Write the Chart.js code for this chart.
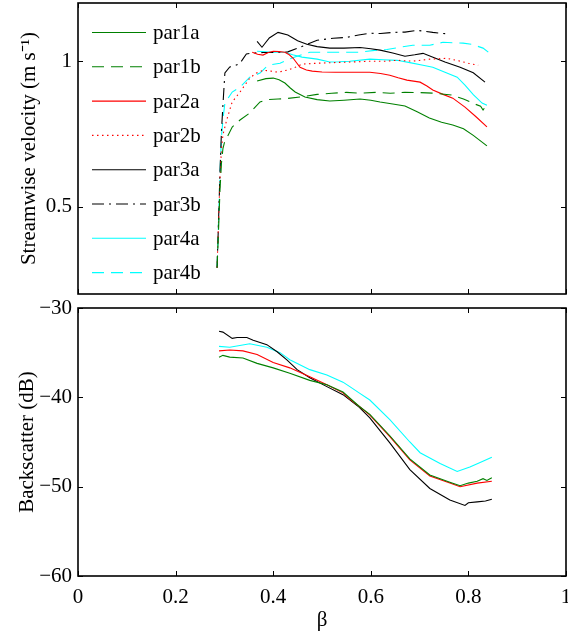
<!DOCTYPE html>
<html>
<head>
<meta charset="utf-8">
<script src="https://cdn.jsdelivr.net/npm/chart.js@4.4.0/dist/chart.umd.min.js"></script>
<style>
  html, body { margin: 0; padding: 0; background: #fff; overflow: hidden; }
  #wrap { position: relative; width: 568px; height: 637px; overflow: hidden; }
  #velChart { position: absolute; left: 0; top: 0; }
  #bsChart { position: absolute; left: 0; top: 300px; }
</style>
</head>
<body>
<div id="wrap">
  <canvas id="velChart" width="568" height="300"></canvas>
  <canvas id="bsChart" width="568" height="337"></canvas>
</div>
<script>
// ---- top panel: streamwise velocity (m/s) vs beta ----
const par1aBeta = [0.367, 0.385, 0.40, 0.412, 0.424, 0.435, 0.445, 0.465, 0.49, 0.516, 0.545, 0.578, 0.60, 0.619, 0.645, 0.67, 0.695, 0.72, 0.745, 0.768, 0.79, 0.81, 0.838];
const par1aVel = [0.932, 0.940, 0.942, 0.936, 0.925, 0.908, 0.894, 0.877, 0.868, 0.863, 0.866, 0.870, 0.866, 0.860, 0.853, 0.846, 0.826, 0.805, 0.790, 0.781, 0.768, 0.745, 0.709];

const par1bBeta = [0.285, 0.288, 0.291, 0.294, 0.297, 0.30, 0.316, 0.332, 0.352, 0.373, 0.39, 0.41, 0.43, 0.455, 0.49, 0.52, 0.55, 0.58, 0.61, 0.64, 0.67, 0.70, 0.73, 0.765, 0.79, 0.81, 0.825, 0.830, 0.835];
const par1bVel = [0.29, 0.42, 0.56, 0.65, 0.70, 0.72, 0.774, 0.798, 0.822, 0.860, 0.868, 0.870, 0.872, 0.877, 0.886, 0.890, 0.893, 0.890, 0.893, 0.890, 0.893, 0.892, 0.890, 0.884, 0.870, 0.855, 0.845, 0.832, 0.845];

const par2aBeta = [0.357, 0.368, 0.379, 0.39, 0.40, 0.412, 0.424, 0.433, 0.441, 0.455, 0.468, 0.48, 0.50, 0.527, 0.557, 0.598, 0.62, 0.639, 0.656, 0.674, 0.701, 0.715, 0.727, 0.748, 0.768, 0.793, 0.815, 0.838];
const par2aVel = [1.031, 1.024, 1.021, 1.030, 1.034, 1.033, 1.031, 1.022, 1.010, 0.979, 0.970, 0.966, 0.963, 0.962, 0.962, 0.962, 0.958, 0.952, 0.943, 0.935, 0.928, 0.915, 0.901, 0.886, 0.873, 0.842, 0.810, 0.774];

const par2bBeta = [0.285, 0.288, 0.291, 0.294, 0.297, 0.305, 0.316, 0.332, 0.352, 0.365, 0.38, 0.395, 0.41, 0.43, 0.445, 0.459, 0.49, 0.52, 0.557, 0.598, 0.63, 0.654, 0.686, 0.721, 0.756, 0.783, 0.80, 0.82];
const par2bVel = [0.29, 0.45, 0.60, 0.70, 0.747, 0.80, 0.86, 0.894, 0.942, 0.959, 0.969, 0.966, 0.962, 0.970, 0.979, 0.990, 0.993, 0.995, 0.997, 1.0, 1.0, 1.003, 1.0, 1.007, 1.010, 1.0, 0.993, 0.986];

const par3aBeta = [0.367, 0.377, 0.392, 0.41, 0.43, 0.45, 0.469, 0.49, 0.516, 0.545, 0.578, 0.60, 0.619, 0.645, 0.67, 0.69, 0.707, 0.73, 0.752, 0.783, 0.81, 0.834];
const par3aVel = [1.068, 1.048, 1.080, 1.099, 1.090, 1.070, 1.058, 1.050, 1.045, 1.045, 1.047, 1.043, 1.038, 1.028, 1.017, 1.022, 1.027, 1.012, 0.997, 0.979, 0.960, 0.928];

const par3bBeta = [0.285, 0.288, 0.291, 0.294, 0.297, 0.301, 0.311, 0.322, 0.332, 0.345, 0.36, 0.38, 0.40, 0.43, 0.455, 0.49, 0.523, 0.551, 0.575, 0.598, 0.62, 0.645, 0.67, 0.695, 0.727, 0.756];
const par3bVel = [0.29, 0.45, 0.62, 0.76, 0.85, 0.96, 0.980, 0.985, 0.993, 1.025, 1.028, 1.030, 1.030, 1.032, 1.048, 1.072, 1.079, 1.082, 1.090, 1.096, 1.095, 1.099, 1.100, 1.106, 1.099, 1.094];

const par4aBeta = [0.367, 0.40, 0.424, 0.44, 0.459, 0.49, 0.516, 0.535, 0.557, 0.598, 0.625, 0.654, 0.68, 0.707, 0.727, 0.752, 0.777, 0.793, 0.81, 0.828, 0.838];
const par4aVel = [1.034, 1.031, 1.031, 1.022, 1.014, 1.007, 0.997, 0.998, 1.0, 1.007, 1.005, 1.003, 0.995, 0.986, 0.979, 0.962, 0.945, 0.918, 0.885, 0.856, 0.849];

const par4bBeta = [0.285, 0.288, 0.291, 0.294, 0.297, 0.301, 0.316, 0.332, 0.352, 0.373, 0.389, 0.414, 0.44, 0.475, 0.51, 0.543, 0.578, 0.613, 0.633, 0.66, 0.686, 0.721, 0.748, 0.789, 0.807, 0.83, 0.844];
const par4bVel = [0.29, 0.45, 0.62, 0.74, 0.80, 0.856, 0.894, 0.911, 0.945, 0.959, 0.986, 0.993, 1.012, 1.031, 1.031, 1.031, 1.031, 1.038, 1.040, 1.048, 1.055, 1.055, 1.065, 1.062, 1.058, 1.045, 1.027];

// ---- bottom panel: backscatter (dB) vs beta ----
const bs1Beta = [0.289, 0.297, 0.311, 0.338, 0.367, 0.40, 0.434, 0.475, 0.51, 0.543, 0.576, 0.598, 0.639, 0.68, 0.721, 0.762, 0.783, 0.80, 0.818, 0.83, 0.838, 0.848];
const bs1Db = [-35.5, -35.3, -35.5, -35.6, -36.2, -36.7, -37.3, -38.1, -38.6, -39.4, -41.0, -41.9, -44.3, -46.9, -48.7, -49.5, -49.9, -49.6, -49.4, -49.1, -49.3, -49.0];

const bs2Beta = [0.289, 0.311, 0.338, 0.367, 0.40, 0.434, 0.475, 0.51, 0.543, 0.557, 0.576, 0.598, 0.639, 0.68, 0.721, 0.762, 0.783, 0.818, 0.848];
const bs2Db = [-34.8, -34.7, -34.8, -35.2, -36.1, -36.7, -37.7, -38.6, -39.5, -40.2, -41.0, -42.0, -44.4, -47.0, -48.8, -49.6, -50.0, -49.6, -49.4];

const bs3Beta = [0.289, 0.297, 0.316, 0.326, 0.346, 0.359, 0.387, 0.408, 0.428, 0.449, 0.475, 0.51, 0.543, 0.576, 0.598, 0.639, 0.68, 0.721, 0.762, 0.793, 0.80, 0.818, 0.835, 0.848];
const bs3Db = [-32.6, -32.7, -33.4, -33.3, -33.3, -33.6, -34.1, -34.9, -35.8, -36.9, -37.8, -38.8, -39.7, -41.1, -42.3, -45.1, -48.1, -50.2, -51.5, -52.1, -51.8, -51.7, -51.6, -51.4];

const bs4Beta = [0.289, 0.311, 0.352, 0.387, 0.414, 0.434, 0.475, 0.51, 0.543, 0.557, 0.576, 0.598, 0.639, 0.68, 0.701, 0.742, 0.777, 0.803, 0.824, 0.848];
const bs4Db = [-34.3, -34.4, -34.0, -34.4, -35.0, -35.8, -36.9, -37.5, -38.3, -38.8, -39.5, -40.3, -42.5, -45.0, -46.2, -47.4, -48.3, -47.8, -47.3, -46.7];

const xTicks = [0, 0.2, 0.4, 0.6, 0.8, 1];
const velTicks = [0.5, 1];
const bsTicks = [-60, -50, -40, -30];

const GREEN = '#008000', RED = '#ff0000', BLACK = '#000000', CYAN = '#00ffff';
const SERIF = "'Liberation Serif', 'Times New Roman', serif";

Chart.defaults.font.family = SERIF;
Chart.defaults.color = '#000';

function pts(xs, ys) {
    return xs.map((x, i) => ({ x: x, y: ys[i] }));
}

function line(label, xs, ys, color, dash) {
    return {
        label: label,
        data: pts(xs, ys),
        borderColor: color,
        backgroundColor: color,
        borderWidth: 1.1,
        borderDash: dash || [],
        pointRadius: 0,
        tension: 0,
        fill: false
    };
}

// tick label text: plain numbers, real minus sign
const fmt = v => String(+Number(v).toFixed(2)).replace('-', '\u2212');
// keep the plot box where the original has it (no auto padding for labels)
const noPad = s => { s.paddingTop = 0; s.paddingBottom = 0; s.paddingLeft = 0; s.paddingRight = 0; };

// box round the plot with inward ticks on all four sides
const frameTicks = {
    id: 'frameTicks',
    afterDatasetsDraw(chart) {
        const { ctx, chartArea: a, scales } = chart;
        const len = 5;
        ctx.save();
        ctx.strokeStyle = '#000';
        ctx.lineWidth = 1;
        ctx.setLineDash([]);
        ctx.beginPath();
        scales.x.ticks.forEach(t => {
            const px = Math.round(scales.x.getPixelForValue(t.value)) + 0.5;
            ctx.moveTo(px, a.top); ctx.lineTo(px, a.top + len);
            ctx.moveTo(px, a.bottom); ctx.lineTo(px, a.bottom - len);
        });
        scales.y.ticks.forEach(t => {
            const py = Math.round(scales.y.getPixelForValue(t.value)) + 0.5;
            ctx.moveTo(a.left, py); ctx.lineTo(a.left + len, py);
            ctx.moveTo(a.right, py); ctx.lineTo(a.right - len, py);
        });
        ctx.stroke();
        ctx.lineWidth = 1.6;
        ctx.strokeRect(a.left, a.top, a.right - a.left, a.bottom - a.top);
        ctx.restore();
    }
};

// legend drawn inside the top-left corner of the plot
const insideLegend = {
    id: 'insideLegend',
    afterDraw(chart) {
        const { ctx, chartArea: a } = chart;
        ctx.save();
        ctx.font = '21px ' + SERIF;
        ctx.textBaseline = 'middle';
        ctx.fillStyle = '#000';
        chart.data.datasets.forEach((ds, i) => {
            const y = a.top + 29.5 + i * 34.3;
            ctx.strokeStyle = ds.borderColor;
            ctx.lineWidth = 1.1;
            ctx.setLineDash(ds.borderDash);
            ctx.beginPath();
            ctx.moveTo(a.left + 14, y);
            ctx.lineTo(a.left + 68, y);
            ctx.stroke();
            ctx.fillText(ds.label, a.left + 75, y + 1);
        });
        ctx.restore();
    }
};

// Top panel
new Chart(document.getElementById('velChart'), {
    type: 'line',
    data: {
        datasets: [
            line('par1a', par1aBeta, par1aVel, GREEN),
            line('par1b', par1bBeta, par1bVel, GREEN, [12, 7]),
            line('par2a', par2aBeta, par2aVel, RED),
            line('par2b', par2bBeta, par2bVel, RED, [1.5, 3.5]),
            line('par3a', par3aBeta, par3aVel, BLACK),
            line('par3b', par3bBeta, par3bVel, BLACK, [12, 5, 2, 5]),
            line('par4a', par4aBeta, par4aVel, CYAN),
            line('par4b', par4bBeta, par4bVel, CYAN, [12, 7])
        ]
    },
    options: {
        responsive: false,
        animation: false,
        layout: { autoPadding: false, padding: { top: 3, right: 2, bottom: 0, left: 0 } },
        plugins: { legend: { display: false }, tooltip: { enabled: false } },
        scales: {
            x: {
                type: 'linear',
                min: 0,
                max: 1,
                afterBuildTicks: s => { s.ticks = xTicks.map(v => ({ value: v })); },
                afterFit: s => { s.height = 6; noPad(s); },
                ticks: { display: false },
                grid: { display: false },
                border: { display: false }
            },
            y: {
                min: 0.2,
                max: 1.2,
                afterBuildTicks: s => { s.ticks = velTicks.map(v => ({ value: v })); },
                afterFit: s => { s.width = 78; noPad(s); },
                ticks: { font: { size: 21 }, padding: 6, callback: v => fmt(v) },
                grid: { display: false, drawTicks: false },
                border: { display: false },
                title: {
                    display: true,
                    text: 'Streamwise velocity (m s\u207B\u00B9)',
                    font: { size: 21 },
                    padding: { top: 17, bottom: 0 }
                }
            }
        }
    },
    plugins: [frameTicks, insideLegend]
});

// Bottom panel
new Chart(document.getElementById('bsChart'), {
    type: 'line',
    data: {
        datasets: [
            line('par1', bs1Beta, bs1Db, GREEN),
            line('par2', bs2Beta, bs2Db, RED),
            line('par3', bs3Beta, bs3Db, BLACK),
            line('par4', bs4Beta, bs4Db, CYAN)
        ]
    },
    options: {
        responsive: false,
        animation: false,
        layout: { autoPadding: false, padding: { top: 8, right: 2, bottom: 0, left: 0 } },
        plugins: { legend: { display: false }, tooltip: { enabled: false } },
        scales: {
            x: {
                type: 'linear',
                min: 0,
                max: 1,
                afterBuildTicks: s => { s.ticks = xTicks.map(v => ({ value: v })); },
                afterFit: s => { s.height = 61; noPad(s); },
                ticks: { font: { size: 21 }, padding: 9, maxRotation: 0, autoSkip: false, callback: v => fmt(v) },
                grid: { display: false, drawTicks: false },
                border: { display: false },
                title: {
                    display: true,
                    text: '\u03B2',
                    font: { size: 21 },
                    padding: { top: 0, bottom: 4 }
                }
            },
            y: {
                min: -60,
                max: -30,
                afterBuildTicks: s => { s.ticks = bsTicks.map(v => ({ value: v })); },
                afterFit: s => { s.width = 78; noPad(s); },
                ticks: { font: { size: 21 }, padding: 6, callback: v => fmt(v) },
                grid: { display: false, drawTicks: false },
                border: { display: false },
                title: {
                    display: true,
                    text: 'Backscatter (dB)',
                    font: { size: 21 },
                    padding: { top: 15, bottom: 0 }
                }
            }
        }
    },
    plugins: [frameTicks]
});
</script>
</body>
</html>
